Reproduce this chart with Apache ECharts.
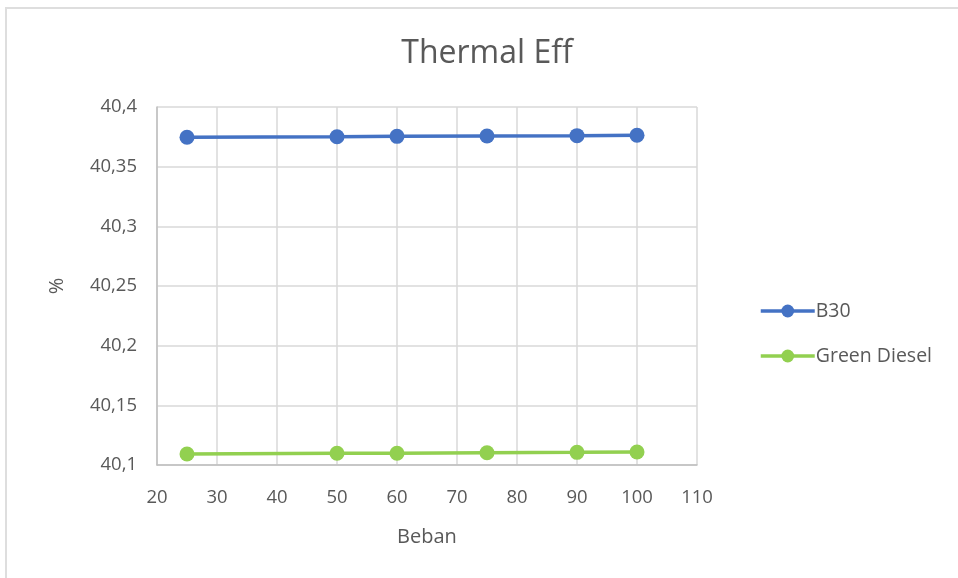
<!DOCTYPE html>
<html>
<head>
<meta charset="utf-8">
<script src="https://cdn.jsdelivr.net/npm/echarts@6/dist/echarts.min.js"></script>
<style>
  html, body { margin: 0; padding: 0; background: #fff; }
  #chart { width: 958px; height: 578px; }
  #frame { position: absolute; left: 5px; top: 7px; width: 970px; height: 590px; border: 2px solid #dedede; pointer-events: none; }
</style>
</head>
<body>
<div id="chart"></div>
<div id="frame"></div>
<script>
// Load (Beban) values and thermal efficiency per fuel
const beban = [25, 50, 60, 75, 90, 100];
const b30 = [40.3746, 40.3751, 40.3754, 40.3757, 40.3760, 40.3763];
const greenDiesel = [40.1092, 40.1098, 40.1099, 40.1103, 40.1106, 40.1109];
const seriesNames = ['B30', 'Green Diesel'];

const FONT = '"Open Sans", "Liberation Sans", sans-serif';
const TXT = '#595959';

const pairs = (ys) => beban.map((x, i) => [x, ys[i]]);
const fmt = (v) => String(Math.round(v * 100) / 100).replace('.', ',');

const chart = echarts.init(document.getElementById('chart'));
chart.setOption({
  animation: false,
  title: {
    text: 'Thermal Eff',
    left: 482, top: 33, textAlign: 'center',
    textStyle: { fontFamily: FONT, fontSize: 32, fontWeight: 'normal', color: TXT }
  },
  grid: { left: 157, right: 261, top: 107, bottom: 113 },
  legend: {
    orient: 'vertical', left: 754, top: 296, itemGap: 25,
    itemWidth: 54, itemHeight: 16,
    lineStyle: { width: 3.5 },
    textStyle: { fontFamily: FONT, fontSize: 19.5, color: TXT, padding: [0, 0, 0, -4] },
    data: seriesNames
  },
  xAxis: {
    type: 'value', min: 20, max: 110, interval: 10,
    name: 'Beban', nameLocation: 'middle', nameGap: 62,
    nameTextStyle: { fontFamily: FONT, fontSize: 20, color: TXT },
    axisLine: { show: true, lineStyle: { color: '#bfbfbf', width: 1.5 } },
    axisTick: { show: false },
    axisLabel: { fontFamily: FONT, fontSize: 18.5, color: TXT, margin: 23 },
    splitLine: { show: true, lineStyle: { color: '#d9d9d9', width: 1.5 } }
  },
  yAxis: {
    type: 'value', min: 40.1, max: 40.4, interval: 0.05,
    name: '%', nameLocation: 'middle', nameGap: 90,
    nameTextStyle: { fontFamily: FONT, fontSize: 20, color: TXT },
    axisLine: { show: true, lineStyle: { color: '#bfbfbf', width: 1.5 } },
    axisTick: { show: false },
    axisLabel: { fontFamily: FONT, fontSize: 18.5, color: TXT, margin: 20, formatter: fmt },
    splitLine: { show: true, lineStyle: { color: '#d9d9d9', width: 1.5 } }
  },
  series: [
    {
      name: seriesNames[0], type: 'line', data: pairs(b30),
      symbol: 'circle', symbolSize: 15,
      lineStyle: { color: '#4472c4', width: 3.5 },
      itemStyle: { color: '#4472c4' }
    },
    {
      name: seriesNames[1], type: 'line', data: pairs(greenDiesel),
      symbol: 'circle', symbolSize: 15,
      lineStyle: { color: '#92d050', width: 3.5 },
      itemStyle: { color: '#92d050' }
    }
  ]
});
</script>
</body>
</html>
